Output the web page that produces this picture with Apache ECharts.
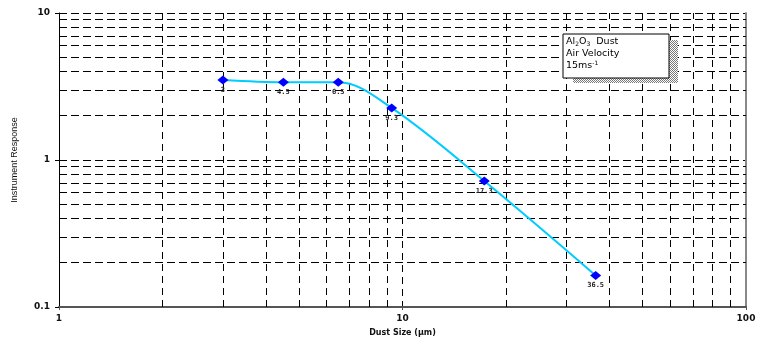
<!DOCTYPE html>
<html><head><meta charset="utf-8">
<script src="https://cdn.jsdelivr.net/npm/echarts@6/dist/echarts.min.js"></script>
<style>html,body{margin:0;padding:0;background:#fff}#c{width:766px;height:342px}</style>
</head><body><div id="c"></div>
<script>
const dustSize = [3, 4.5, 6.5, 9.3, 17.3, 36.5];
const response = [3.5, 3.38, 3.38, 2.26, 0.72, 0.164];
const pointLabels = ['3', '4.5', '6.5', '9.3', '17.3', '36.5'];
const xMinorGrid = [2, 3, 4, 5, 6, 7, 8, 9, 20, 30, 40, 50, 60, 70, 80, 90];
const yMinorGrid = [0.2, 0.3, 0.4, 0.5, 0.6, 0.7, 0.8, 0.9, 2, 3, 4, 5, 6, 7, 8, 9];
const xTickLabels = {1: '1', 10: '10', 100: '100'};
const yTickLabels = {0.1: '0.1', 1: '1', 10: '10'};

const FONT = 'Liberation Sans';
const WIDE = 'DejaVu Sans';

// checker pattern for the box shadow
const pat = document.createElement('canvas');
pat.width = 2; pat.height = 2;
const pctx = pat.getContext('2d');
pctx.fillStyle = '#ffffff'; pctx.fillRect(0, 0, 2, 2);
pctx.fillStyle = '#777777'; pctx.fillRect(0, 0, 1, 1); pctx.fillRect(1, 1, 1, 1);

const chart = echarts.init(document.getElementById('c'), null, {renderer: 'canvas'});
const pts = dustSize.map((x, i) => [x, response[i], pointLabels[i]]);

chart.setOption({
  animation: false,
  backgroundColor: '#fff',
  grid: {left: 59, right: 20, top: 13, bottom: 33, containLabel: false},
  xAxis: {
    type: 'log', logBase: 10, min: 1, max: 100,
    name: 'Dust Size (µm)', nameLocation: 'middle', nameGap: 22,
    nameTextStyle: {fontFamily: WIDE, fontSize: 8, fontWeight: 'bold', color: '#111'},
    axisLine: {show: true, onZero: false, lineStyle: {color: '#555', width: 2}},
    axisTick: {show: true, length: 3, lineStyle: {color: '#555'}},
    axisLabel: {fontFamily: WIDE, fontSize: 9, fontWeight: 'bold', color: '#111', margin: 7,
      formatter: v => xTickLabels[Math.round(v)] || ''},
    splitLine: {show: true, lineStyle: {color: '#000', type: [7, 5], width: 1}}
  },
  yAxis: [{
    type: 'log', logBase: 10, min: 0.1, max: 10,
    name: 'Instrument Response', nameLocation: 'middle', nameGap: 40, nameRotate: 90,
    nameTextStyle: {fontFamily: FONT, fontSize: 9, color: '#111'},
    axisLine: {show: true, onZero: false, lineStyle: {color: '#000', width: 1}},
    axisTick: {show: true, length: 4, lineStyle: {color: '#000'}},
    axisLabel: {fontFamily: WIDE, fontSize: 9, fontWeight: 'bold', color: '#111', margin: 9,
      formatter: v => yTickLabels[v >= 5 ? 10 : (v >= 0.5 ? 1 : 0.1)]},
    splitLine: {show: true, lineStyle: {color: '#000', type: [8, 4], width: 1}}
  }, {
    type: 'log', logBase: 10, min: 0.1, max: 10, position: 'right',
    axisLine: {show: true, onZero: false, lineStyle: {color: '#888', width: 2}},
    axisTick: {show: false}, axisLabel: {show: false}, splitLine: {show: false}
  }],
  series: [{
    type: 'line', data: [], z: 1, silent: true,
    markLine: {
      silent: true, symbol: 'none', label: {show: false}, animation: false,
      lineStyle: {color: '#000', type: [7, 5], width: 1},
      data: xMinorGrid.map(v => ({xAxis: v}))
        .concat(yMinorGrid.map(v => ({yAxis: v, lineStyle: {color: '#000', type: [8, 4], width: 1}})))
    }
  }, {
    type: 'line', data: pts, z: 5,
    smooth: 0.35,
    lineStyle: {color: '#00CCFF', width: 2},
    symbol: 'diamond', symbolSize: [11, 9],
    itemStyle: {color: '#0000FF'},
    label: {show: true, position: 'bottom', distance: 2,
      fontFamily: 'DejaVu Sans Mono', fontSize: 7, fontWeight: 'bold', color: '#222',
      formatter: p => p.data[2]}
  }],
  graphic: [
    {type: 'rect', shape: {x: 573, y: 40, width: 105, height: 43}, style: {fill: {image: pat, repeat: 'repeat'}}, z: 10},
    {type: 'rect', shape: {x: 563, y: 34, width: 106, height: 44}, style: {fill: '#fff', stroke: '#000', lineWidth: 1}, z: 11},
    {type: 'text', x: 566, y: 36, z: 12, style: {
      text: 'Al{s|2}O{s|3}  Dust\nAir Velocity\n15ms{p|-1}',
      font: '9.5px ' + WIDE, fill: '#000', lineHeight: 12,
      rich: {
        s: {fontSize: 6, fontFamily: WIDE, fill: '#000', padding: [5, 0, 0, 0]},
        p: {fontSize: 6, fontFamily: WIDE, fill: '#000', padding: [0, 0, 5, 0]}
      }
    }}
  ]
});
</script></body></html>
